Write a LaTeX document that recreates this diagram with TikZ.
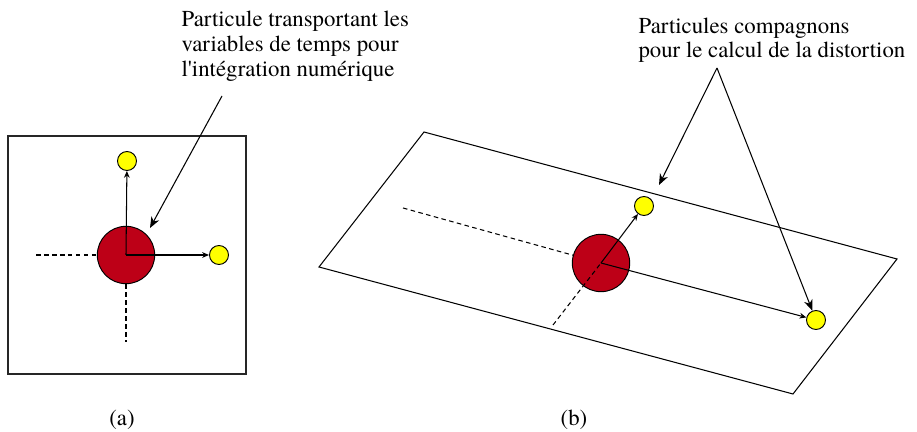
\documentclass[tikz,border=0pt]{standalone}
\usepackage{fontspec}
\setmainfont{TeX Gyre Termes}
\newfontfamily\timesfam{TeX Gyre Termes}
\usetikzlibrary{arrows.meta}
\definecolor{partred}{HTML}{BD0017}
\definecolor{partyel}{HTML}{FFFF00}
\begin{document}
\begin{tikzpicture}[x=0.5263pt,y=-0.5263pt,line width=0.55pt,
  lbl/.style={font=\timesfam\fontsize{12}{12.9}\selectfont, align=left, inner sep=0pt},
  sublabel/.style={font=\timesfam\fontsize{12}{14}\selectfont, inner sep=0pt},
  bigp/.style={circle, draw=black, line width=0.5pt, fill=partred, minimum size=30.2pt, inner sep=0pt},
  smallp/.style={circle, draw=black, line width=0.5pt, fill=partyel, minimum size=10pt, inner sep=0pt},
  vec/.style={-{Stealth[length=3.6pt,width=3pt]}},
  note/.style={-{Stealth[length=5.8pt,width=4.6pt,inset=1.8pt]}},
  guide/.style={dashed, dash pattern=on 2.4pt off 1.8pt}]
\useasboundingbox (0,0) rectangle (917,432);

% ---- (a) ----
\draw[black!85] (8,136) rectangle (246,374);
\coordinate (aL) at (36,255);
\coordinate (aD) at (126,342);
\node[bigp] (redA) at (126,255) {};
\node[smallp] (yA1) at (127,161) {};
\node[smallp] (yA2) at (219,255) {};
\draw[guide] (aL) -- (redA);
\draw[guide] (redA.south) -- (aD);
\draw[vec] (redA.center) -- (yA1);
\draw[vec] (redA.center) -- (yA2);

\node[lbl, anchor=north west] (txtA) at (181,10.9)
  {Particule transportant les\\variables de temps pour\\l\char39 intégration numérique};
\coordinate (nA0) at (222,96);
\coordinate (nA1) at (150,228);
\draw[note] (nA0) -- (nA1);

\node[sublabel] (capA) at (122,420) {(a)};

% ---- (b) ----
\coordinate (p1) at (424,132);
\coordinate (p2) at (897,259);
\coordinate (p3) at (793,394);
\coordinate (p4) at (319,267);
\draw (p1) -- (p2) -- (p3) -- (p4) -- cycle;
\coordinate (bL) at (403,208);
\coordinate (bD) at (553,325);
\node[bigp] (redB) at (601,263) {};
\node[smallp] (yB1) at (644,206) {};
\node[smallp] (yB2) at (816,320) {};
\draw[guide] (bL) -- (redB);
\draw[guide] (bD) -- (redB.center);
\draw[vec] (redB.center) -- (yB1);
\draw[vec] (redB.center) -- (yB2);

\node[lbl, anchor=north west] (txtB) at (638,17.4)
  {Particules compagnons\\pour le calcul de la distortion};
\coordinate (apex) at (717,68);
\coordinate (nB1) at (659,185);
\draw[note] (apex) -- (nB1);
\draw[note] (apex) -- (yB2);

\node[sublabel] (capB) at (574,420) {(b)};
\end{tikzpicture}
\end{document}
